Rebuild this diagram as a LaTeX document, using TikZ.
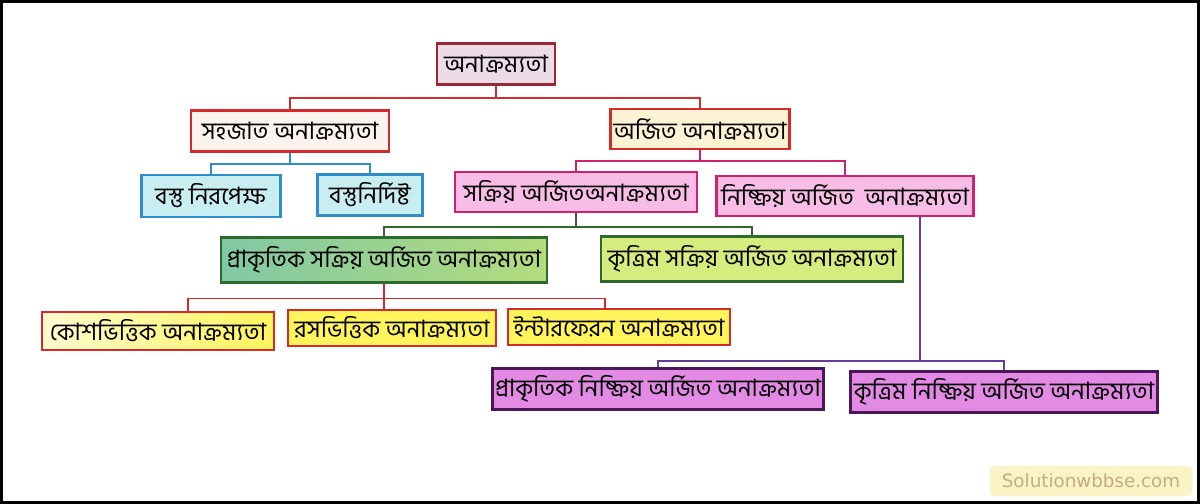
\documentclass[tikz,border=0pt]{standalone}
\usepackage{fontspec}
\newfontfamily\bn[Script=Bengali]{Hind Siliguri}
\newfontfamily\wmfont{DejaVu Sans}

\definecolor{rootfill}{HTML}{ECDCE8}
\definecolor{rootdraw}{HTML}{9A2838}
\definecolor{redline}{HTML}{D42A2A}
\definecolor{creamfill}{HTML}{FDF3D4}
\definecolor{peachfill}{HTML}{FCF3EE}
\definecolor{cyanfill}{HTML}{C8EEF2}
\definecolor{blueline}{HTML}{2F8EC8}
\definecolor{pinkfill}{HTML}{F8BDE6}
\definecolor{magline}{HTML}{D0206E}
\definecolor{greenline}{HTML}{2E6A2E}
\definecolor{tealfill}{HTML}{80C8A4}
\definecolor{leaffill}{HTML}{B4DC7C}
\definecolor{limefill}{HTML}{D6EC7E}
\definecolor{yellowfill}{HTML}{FFF45C}
\definecolor{paleyellow}{HTML}{FFFBD0}
\definecolor{purplefill}{HTML}{E28AE4}
\definecolor{purpledraw}{HTML}{4A1858}
\definecolor{purpleline}{HTML}{6A3A9A}
\definecolor{wmfill}{HTML}{FBF3C8}
\definecolor{wmtext}{HTML}{C2AE7C}

\tikzset{
    box/.style={draw, line width=1.5pt, inner sep=0pt, font={\bn\fontsize{17}{19}\selectfont}},
    sz/.style 2 args={minimum width=#1*0.025cm, minimum height=#2*0.025cm},
    link/.style={line width=1.1pt}
}

\begin{document}
\begin{tikzpicture}[x=0.025cm, y=-0.025cm]
    \def\F{0.025cm} % one pixel

    \useasboundingbox (0,0) rectangle (1200,504);
    \draw[line width=2.2pt] (1.5,1.5) rectangle (1198.5,502.5);

    % first two levels
    \node[box, sz={118}{41}, draw=rootdraw, fill=rootfill] (root) at (496,64) {অনাক্রম্যতা};
    \node[box, sz={198}{41}, draw=redline, fill=peachfill] (sahaj) at (290,131) {সহজাত অনাক্রম্যতা};
    \node[box, sz={179}{40}, draw=redline, fill=creamfill] (arjit) at (700,129) {অর্জিত অনাক্রম্যতা};

    \node[box, sz={139}{42}, draw=blueline, fill=cyanfill] (nirapeksha) at (211,196) {বস্তু নিরপেক্ষ};
    \node[box, sz={105}{41}, draw=blueline, fill=cyanfill] (nirdishta) at (370,195) {বস্তুনির্দিষ্ট};

    \node[box, sz={242}{40}, draw=magline, fill=pinkfill] (sakriya) at (576,192) {সক্রিয় অর্জিতঅনাক্রম্যতা};
    \node[box, sz={257}{40}, draw=magline, fill=pinkfill] (nishkriya) at (845,196) {নিষ্ক্রিয় অর্জিত~ অনাক্রম্যতা};

    \node[box, sz={326}{45}, draw=greenline, left color=tealfill, right color=leaffill] (psak) at (384,260) {প্রাকৃতিক সক্রিয় অর্জিত অনাক্রম্যতা};
    \node[box, sz={302}{45}, draw=greenline, fill=limefill] (ksak) at (752,259) {কৃত্রিম সক্রিয় অর্জিত অনাক্রম্যতা};

    \node[box, sz={232}{38}, draw=redline, left color=paleyellow, right color=yellowfill] (kosh) at (158,331) {কোশভিত্তিক অনাক্রম্যতা};
    \node[box, sz={208}{36}, draw=redline, fill=yellowfill] (ras) at (392,328) {রসভিত্তিক অনাক্রম্যতা};
    \node[box, sz={222}{36}, draw=redline, fill=yellowfill] (inter) at (619,327) {ইন্টারফেরন অনাক্রম্যতা};

    \node[box, sz={331}{41}, draw=purpledraw, fill=purplefill] (pnis) at (658,389) {প্রাকৃতিক নিষ্ক্রিয় অর্জিত অনাক্রম্যতা};
    \node[box, sz={307}{41}, draw=purpledraw, fill=purplefill] (knis) at (1004,392) {কৃত্রিম নিষ্ক্রিয় অর্জিত অনাক্রম্যতা};

    % connectors
    \draw[link, redline] (root.south) -- ++(0,12.5) coordinate (j1);
    \draw[link, redline] (sahaj.north) |- (j1) -| (arjit.north);

    \draw[link, blueline] (sahaj.south) -- ++(0,11.5) coordinate (j2);
    \draw[link, blueline] (nirapeksha.north) |- (j2) -| (nirdishta.north);

    \draw[link, magline] (arjit.south) -- ++(0,11) coordinate (j3);
    \draw[link, magline] (sakriya.north) |- (j3) -| (nishkriya.north);

    \draw[link, greenline] (sakriya.south) -- ++(0,14) coordinate (j4);
    \draw[link, greenline] (psak.north) |- (j4) -| (ksak.north);

    \draw[link, redline] (psak.south) -- (psak.south |- ras.north);
    \path (psak.south) ++(0,15) coordinate (j5);
    \draw[link, redline] ([xshift=30*\F]kosh.north) |- (j5) -| ([xshift=-14*\F]inter.north);

    \draw[link, purpleline] ([xshift=75*\F]nishkriya.south) -- ++(0,144) coordinate (j6);
    \draw[link, purpleline] (pnis.north) |- (j6) -| (knis.north);

    % watermark
    \node[rounded corners=3pt, fill=wmfill, sz={203}{30}, text=wmtext,
          font={\wmfont\fontsize{13}{15}\selectfont}] (mark) at (1091,481) {Solutionwbbse.com};
\end{tikzpicture}
\end{document}
